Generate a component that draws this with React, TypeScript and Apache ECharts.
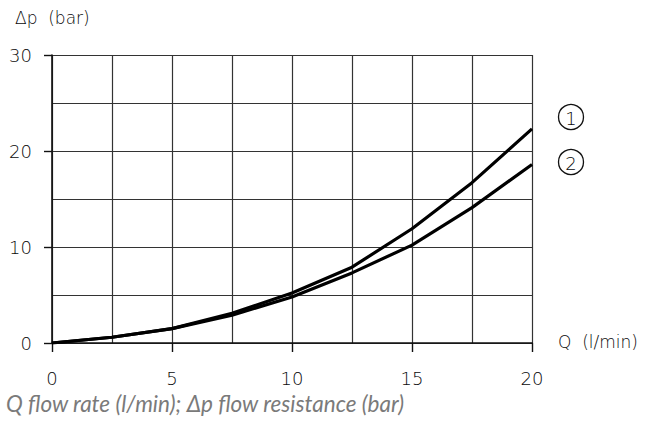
import React, { useEffect, useRef } from "react";
import * as echarts from "echarts";

const flowQ = [0, 2.5, 5, 7.5, 10, 12.5, 15, 17.5, 20];
const curve1 = [0, 0.6, 1.5, 3.1, 5.2, 7.9, 11.9, 16.7, 22.3];
const curve2 = [0, 0.6, 1.5, 2.9, 4.8, 7.3, 10.2, 14.1, 18.6];
const curveLabels = ["1", "2"];
const yAxisTitle = "Δp  (bar)";
const xAxisTitle = "Q  (l/min)";
const caption = "Q flow rate (l/min); Δp flow resistance (bar)";

const FONT = "DejaVu Sans";
const W = 200;
const INK = "#0a0a0a";

export default function App() {
  const ref = useRef<HTMLDivElement>(null);
  useEffect(() => {
    if (!ref.current) return;
    const chart = echarts.init(ref.current, null, { renderer: "svg" });
    const s1 = flowQ.map((q, i) => [q, curve1[i]]);
    const s2 = flowQ.map((q, i) => [q, curve2[i]]);
    const grid = { left: 52, right: 128, top: 55, bottom: 78 };
    chart.setOption({
      animation: false,
      backgroundColor: "#ffffff",
      grid,
      xAxis: [
        {
          type: "value", min: 0, max: 20, interval: 2.5,
          axisLine: { show: false }, axisTick: { show: false }, axisLabel: { show: false },
          splitLine: { show: true, lineStyle: { color: "#333", width: 1.2 } },
        },
        {
          type: "value", min: 0, max: 20, interval: 5, position: "bottom",
          axisLine: { show: true, onZero: false, lineStyle: { color: "#111", width: 1.6 } },
          axisTick: { show: true, inside: false, length: 9, lineStyle: { color: "#111", width: 1.4 } },
          axisLabel: { show: true, margin: 26, fontSize: 18, fontWeight: W, color: INK, fontFamily: FONT },
          splitLine: { show: false },
        },
      ],
      yAxis: [
        {
          type: "value", min: 0, max: 30, interval: 5,
          axisLine: { show: false }, axisTick: { show: false }, axisLabel: { show: false },
          splitLine: { show: true, lineStyle: { color: "#333", width: 1.2 } },
        },
        {
          type: "value", min: 0, max: 30, interval: 10, position: "left",
          axisLine: { show: true, onZero: false, lineStyle: { color: "#111", width: 1.6 } },
          axisTick: { show: true, inside: false, length: 8, lineStyle: { color: "#111", width: 1.4 } },
          axisLabel: { show: true, margin: 20, fontSize: 18, fontWeight: W, color: INK, fontFamily: FONT },
          splitLine: { show: false },
        },
      ],
      series: [
        {
          type: "line", data: s1, xAxisIndex: 1, yAxisIndex: 1, symbol: "none",
          lineStyle: { color: "#000", width: 3.2 }, z: 5,
        },
        {
          type: "line", data: s2, xAxisIndex: 1, yAxisIndex: 1, symbol: "none",
          lineStyle: { color: "#000", width: 3.2 }, z: 5,
        },
      ],
      graphic: [
        { type: "text", x: 15, y: 18, style: { text: yAxisTitle, fontSize: 17, fontWeight: W, fill: INK, fontFamily: FONT, verticalAlign: "middle" } },
        { type: "text", x: 558, y: 342, style: { text: xAxisTitle, fontSize: 17, fontWeight: W, fill: INK, fontFamily: FONT, verticalAlign: "middle" } },
        { type: "circle", shape: { cx: 571, cy: 117, r: 12.5 }, style: { fill: "none", stroke: "#111", lineWidth: 1.3 } },
        { type: "text", x: 571, y: 118, style: { text: curveLabels[0], fontSize: 18, fontWeight: W, fill: INK, fontFamily: FONT, align: "center", verticalAlign: "middle" } },
        { type: "circle", shape: { cx: 571, cy: 162, r: 12.5 }, style: { fill: "none", stroke: "#111", lineWidth: 1.3 } },
        { type: "text", x: 571, y: 163, style: { text: curveLabels[1], fontSize: 18, fontWeight: W, fill: INK, fontFamily: FONT, align: "center", verticalAlign: "middle" } },
        { type: "text", x: 6, y: 403, style: { text: caption, fontSize: 22.5, fill: "#7a7a7a", fontStyle: "italic", fontFamily: "Lato", verticalAlign: "middle" } },
      ],
    });
    return () => chart.dispose();
  }, []);
  return <div ref={ref} style={{ width: 660, height: 421, position: "absolute", left: 0, top: 0 }} />;
}
